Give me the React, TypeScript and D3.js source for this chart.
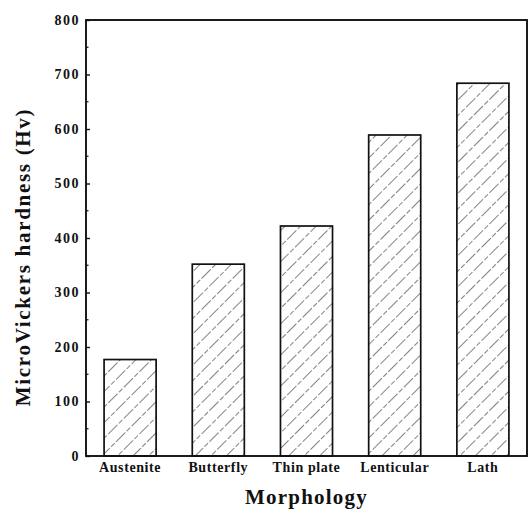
import { useEffect, useRef } from "react";
import * as d3 from "d3";

// Data
const categories = ["Austenite", "Butterfly", "Thin plate", "Lenticular", "Lath"];
const hardness = [177, 352, 422, 589, 684];
const yTicks = [0, 100, 200, 300, 400, 500, 600, 700, 800];

const App = () => {
  const svgRef = useRef<SVGSVGElement | null>(null);

  useEffect(() => {
    document.body.style.margin = "0";
    const W = 532;
    const H = 512;
    const margin = { top: 20, right: 5, bottom: 56, left: 86 };
    const width = W - margin.left - margin.right;
    const height = H - margin.top - margin.bottom;
    const font = "'Liberation Serif', 'Times New Roman', serif";

    const root = d3.select(svgRef.current);
    root.selectAll("*").remove();
    root.attr("width", W).attr("height", H);

    ////////////////////// hatch pattern ///////////////////////
    const defs = root.append("defs");
    const pat = defs
      .append("pattern")
      .attr("id", "hatch")
      .attr("patternUnits", "userSpaceOnUse")
      .attr("width", 11)
      .attr("height", 22)
      .attr("patternTransform", "rotate(45)");
    pat
      .append("line")
      .attr("x1", 0)
      .attr("y1", 0)
      .attr("x2", 0)
      .attr("y2", 22)
      .attr("stroke", "#1a1a1a")
      .attr("stroke-width", 1.1)
      .attr("stroke-dasharray", "13,2,5,2");

    const svg = root
      .append("g")
      .attr("transform", `translate(${margin.left},${margin.top})`);

    const x = d3
      .scaleBand()
      .domain(categories)
      .range([0, width])
      .paddingInner(0.41)
      .paddingOuter(0.205);

    const y = d3.scaleLinear().domain([0, 800]).range([height, 0]);

    const data = categories.map((c, i) => ({ name: c, value: hardness[i] }));

    svg
      .selectAll(".bar")
      .data(data)
      .enter()
      .append("rect")
      .attr("class", "bar")
      .attr("x", (d) => x(d.name)!)
      .attr("y", (d) => y(d.value))
      .attr("width", x.bandwidth())
      .attr("height", (d) => height - y(d.value))
      .attr("fill", "url(#hatch)")
      .attr("stroke", "#111")
      .attr("stroke-width", 1.7);

    // frame
    svg
      .append("rect")
      .attr("x", 0)
      .attr("y", 0)
      .attr("width", width)
      .attr("height", height)
      .attr("fill", "none")
      .attr("stroke", "#111")
      .attr("stroke-width", 1.9);

    // y axis: ticks pointing inward
    const yAxis = svg
      .append("g")
      .attr("class", "y-axis")
      .call(
        d3
          .axisLeft(y)
          .tickValues(yTicks)
          .tickSize(-4)
          .tickPadding(6)
      );
    yAxis.select(".domain").remove();
    yAxis.selectAll("line").attr("stroke", "#111").attr("stroke-width", 1.4);
    yAxis
      .selectAll("text")
      .attr("font-family", font)
      .attr("font-weight", "bold")
      .attr("font-size", 14)
      .attr("letter-spacing", 1.5)
      .attr("fill", "#111");

    // minor ticks
    svg
      .append("g")
      .selectAll("line")
      .data(d3.range(50, 800, 100))
      .enter()
      .append("line")
      .attr("x1", 0)
      .attr("x2", 2.5)
      .attr("y1", (d) => y(d))
      .attr("y2", (d) => y(d))
      .attr("stroke", "#111")
      .attr("stroke-width", 1.2);

    // x axis labels
    const xAxis = svg
      .append("g")
      .attr("class", "x-axis")
      .attr("transform", `translate(0,${height})`)
      .call(d3.axisBottom(x).tickSize(0).tickPadding(6));
    xAxis.select(".domain").remove();
    xAxis
      .selectAll("text")
      .attr("font-family", font)
      .attr("font-weight", "bold")
      .attr("font-size", 14)
      .attr("letter-spacing", 0.6)
      .attr("fill", "#111");

    // axis titles
    svg
      .append("text")
      .attr("x", width / 2)
      .attr("y", height + 48)
      .attr("text-anchor", "middle")
      .attr("font-family", font)
      .attr("font-weight", "bold")
      .attr("font-size", 21)
      .attr("letter-spacing", 1.2)
      .attr("fill", "#111")
      .text("Morphology");

    svg
      .append("text")
      .attr("transform", `translate(${-margin.left + 30},${height / 2 + 19}) rotate(-90)`)
      .attr("text-anchor", "middle")
      .attr("font-family", font)
      .attr("font-weight", "bold")
      .attr("font-size", 21)
      .attr("letter-spacing", 1.7)
      .attr("fill", "#111")
      .text("MicroVickers hardness (Hv)");
  }, []);

  return <svg ref={svgRef} style={{ display: "block" }}></svg>;
};

export default App;
